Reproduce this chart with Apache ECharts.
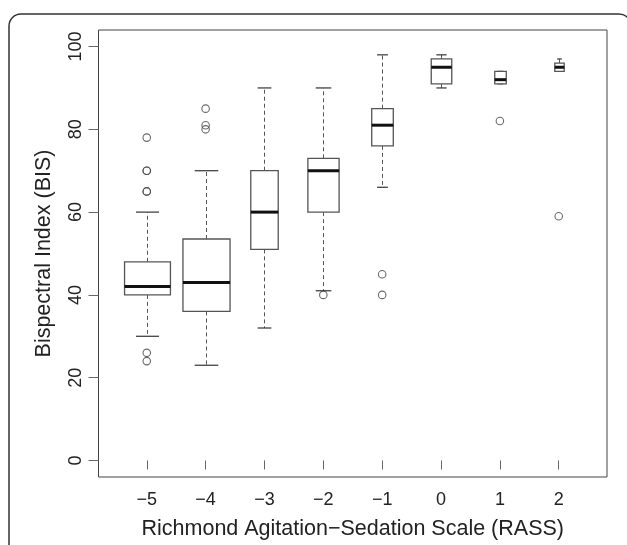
<!DOCTYPE html>
<html>
<head>
<meta charset="utf-8">
<script src="https://cdn.jsdelivr.net/npm/echarts@6/dist/echarts.min.js"></script>
<style>
  html, body { margin: 0; padding: 0; background: #fff; }
  #chart { width: 627px; height: 545px; }
</style>
</head>
<body>
<div id="chart"></div>
<script>
// ---- data ----
const categories = ['\u22125', '\u22124', '\u22123', '\u22122', '\u22121', '0', '1', '2'];
const lowerWhisker = [30, 23, 32, 41, 66, 90, 91, 94];
const q1 = [40, 36, 51, 60, 76, 91, 91, 94];
const median = [42, 43, 60, 70, 81, 95, 92, 95];
const q3 = [48, 53.5, 70, 73, 85, 97, 94, 96];
const upperWhisker = [60, 70, 90, 90, 98, 98, 94, 97];
const groupSizes = [95, 100, 34, 44, 21, 19, 6, 4];
const outliers = [
  [78, 70, 70, 65, 65, 26, 24],
  [85, 81, 80],
  [],
  [40],
  [45, 40],
  [],
  [82],
  [59]
];
const yTicks = [0, 20, 40, 60, 80, 100];
const xTicks = [1, 2, 3, 4, 5, 6, 7, 8];

// ---- build series data ----
const maxN = Math.max.apply(null, groupSizes);
const boxData = categories.map(function (c, i) {
  return [i + 1, lowerWhisker[i], q1[i], median[i], q3[i], upperWhisker[i],
          0.8 * Math.sqrt(groupSizes[i] / maxN)];
});
const outlierData = [];
outliers.forEach(function (arr, i) {
  arr.forEach(function (v) { outlierData.push([i + 1, v]); });
});

const FONT = '"Liberation Sans", Arial, Helvetica, sans-serif';
const chart = echarts.init(document.getElementById('chart'), null, { renderer: 'canvas' });

function renderBox(params, api) {
  const x = api.value(0);
  const low = api.coord([x, api.value(1)]);
  const pq1 = api.coord([x, api.value(2)]);
  const pmed = api.coord([x, api.value(3)]);
  const pq3 = api.coord([x, api.value(4)]);
  const high = api.coord([x, api.value(5)]);
  const halfW = api.size([api.value(6), 0])[0] / 2;
  const cx = Math.round(low[0]) + 0.5;
  const capW = halfW / 2;
  const grey = '#555';
  return {
    type: 'group',
    children: [
      { type: 'line', shape: { x1: cx, y1: pq3[1], x2: cx, y2: high[1] },
        style: { stroke: grey, lineWidth: 1, lineDash: [4, 3] } },
      { type: 'line', shape: { x1: cx, y1: pq1[1], x2: cx, y2: low[1] },
        style: { stroke: grey, lineWidth: 1, lineDash: [4, 3] } },
      { type: 'line', shape: { x1: cx - capW, y1: high[1], x2: cx + capW, y2: high[1] },
        style: { stroke: '#333', lineWidth: 1.2 } },
      { type: 'line', shape: { x1: cx - capW, y1: low[1], x2: cx + capW, y2: low[1] },
        style: { stroke: '#333', lineWidth: 1.2 } },
      { type: 'rect', shape: { x: cx - halfW, y: pq3[1], width: 2 * halfW, height: pq1[1] - pq3[1] },
        style: { fill: '#fff', stroke: grey, lineWidth: 1.3 } },
      { type: 'line', shape: { x1: cx - halfW, y1: pmed[1], x2: cx + halfW, y2: pmed[1] },
        style: { stroke: '#111', lineWidth: 3 } }
    ]
  };
}

const option = {
  backgroundColor: '#fff',
  animation: false,
  graphic: [{
    type: 'rect', silent: true, z: -10,
    shape: { x: 9, y: 14, width: 622, height: 640, r: 12 },
    style: { fill: 'none', stroke: '#333', lineWidth: 1.5 }
  }],
  grid: {
    left: 98.5, right: 20, top: 30, bottom: 60,
    show: true, borderColor: '#444', borderWidth: 1, backgroundColor: 'transparent'
  },
  xAxis: {
    type: 'value', min: 0.18, max: 8.82,
    name: 'Richmond Agitation\u2212Sedation Scale (RASS)',
    nameLocation: 'middle', nameGap: 41,
    nameTextStyle: { fontFamily: FONT, fontSize: 21.5, color: '#222' },
    axisLine: { show: false },
    splitLine: { show: false },
    axisTick: { show: true, length: 9, customValues: xTicks, lineStyle: { color: '#666', width: 1 } },
    axisLabel: {
      customValues: xTicks, margin: 14, fontFamily: FONT, fontSize: 18, color: '#222',
      formatter: function (v) { return categories[Math.round(v) - 1]; }
    }
  },
  yAxis: {
    type: 'value', min: -4, max: 104,
    name: 'Bispectral Index (BIS)',
    nameLocation: 'middle', nameGap: 43, nameRotate: 90,
    nameTextStyle: { fontFamily: FONT, fontSize: 21.5, color: '#222' },
    axisLine: { show: false },
    splitLine: { show: false },
    axisTick: { show: true, length: 10, customValues: yTicks, lineStyle: { color: '#666', width: 1 } },
    axisLabel: {
      customValues: yTicks, rotate: 90, margin: 13, fontFamily: FONT, fontSize: 18, color: '#222'
    }
  },
  series: [
    {
      type: 'custom',
      renderItem: renderBox,
      data: boxData,
      encode: { x: 0, y: [1, 2, 3, 4, 5] },
      clip: false
    },
    {
      type: 'scatter',
      data: outlierData,
      symbol: 'circle',
      symbolSize: 7.5,
      itemStyle: { color: 'rgba(255,255,255,0)', borderColor: '#444', borderWidth: 1.1 }
    }
  ]
};
chart.setOption(option);
</script>
</body>
</html>
